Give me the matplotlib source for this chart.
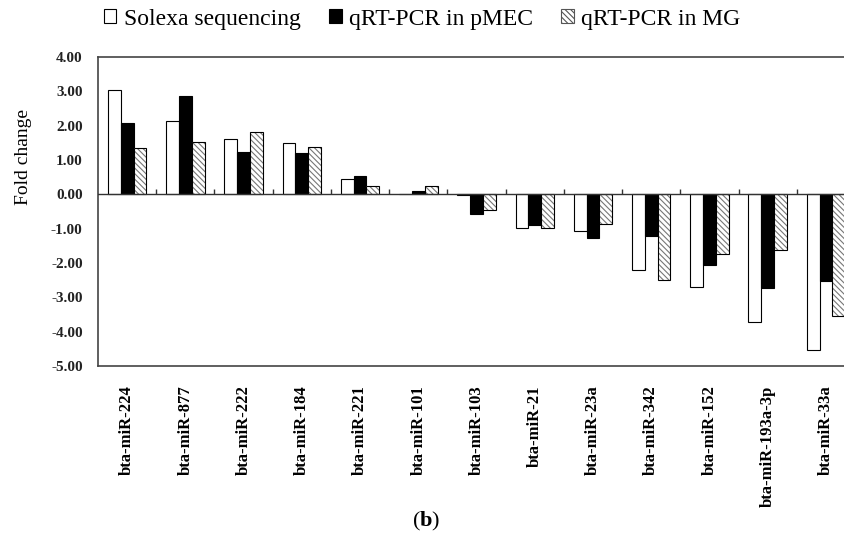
import numpy as np
import matplotlib
matplotlib.use('Agg')
import matplotlib.pyplot as plt

plt.rcParams['font.family'] = ['Liberation Serif', 'DejaVu Serif']
plt.rcParams['mathtext.fontset'] = 'custom'
plt.rcParams['mathtext.bf'] = 'Liberation Serif:bold'
plt.rcParams['mathtext.rm'] = 'Liberation Serif'
plt.rcParams['hatch.linewidth'] = 0.8

mirnas = ['bta-miR-224', 'bta-miR-877', 'bta-miR-222', 'bta-miR-184', 'bta-miR-221',
          'bta-miR-101', 'bta-miR-103', 'bta-miR-21', 'bta-miR-23a', 'bta-miR-342',
          'bta-miR-152', 'bta-miR-193a-3p', 'bta-miR-33a']
solexa = [3.04, 2.15, 1.61, 1.50, 0.44, 0.02, -0.03, -0.99, -1.06, -2.20, -2.71, -3.73, -4.52]
pmec = [2.07, 2.87, 1.23, 1.19, 0.54, 0.10, -0.56, -0.89, -1.28, -1.20, -2.07, -2.74, -2.52]
mg = [1.36, 1.53, 1.81, 1.39, 0.23, 0.23, -0.45, -0.99, -0.85, -2.49, -1.73, -1.61, -3.53]
yticks = [4, 3, 2, 1, 0, -1, -2, -3, -4, -5]

fig = plt.figure(figsize=(8.44, 5.43), dpi=100)
ax = fig.add_axes([0.1161, 0.326, 0.897, 0.569])

x = np.arange(len(mirnas)) + 0.5
w = 0.22

ax.bar(x - w, solexa, w, color='white', edgecolor='black', linewidth=0.8, zorder=3)
ax.bar(x, pmec, w, color='black', edgecolor='black', linewidth=0.8, zorder=3)
ax.bar(x + w, mg, w, color='white', edgecolor='#777777', hatch='\\\\\\\\\\\\', linewidth=0, zorder=3)
ax.bar(x + w, mg, w, color='none', edgecolor='black', linewidth=0.8, zorder=4)

# zero line with small category ticks
ax.axhline(0, color='#333333', linewidth=1.0, zorder=5)
ax.vlines(np.arange(1, len(mirnas)), 0, 0.15, color='#333333', linewidth=1.0, zorder=5)

ax.set_xlim(0, len(mirnas))
ax.set_ylim(-5, 4)
ax.set_yticks(yticks)
ax.set_yticklabels(['%.2f' % v for v in yticks], fontsize=11, fontweight='bold', color='#222222')
ax.tick_params(axis='y', length=0, pad=11)
ax.set_xticks(x)
ax.set_xticklabels(mirnas, rotation=90, fontsize=12, fontweight='bold', va='top')
ax.tick_params(axis='x', length=0, pad=14)

for s in ax.spines.values():
    s.set_color('#444444')
    s.set_linewidth(1.2)

ax.set_ylabel('Fold change', fontsize=14)
ax.yaxis.set_label_coords(-0.087, 0.676)

# legend proxies
hs = plt.Rectangle((0, 0), 1, 1, facecolor='white', edgecolor='black', linewidth=0.8)
hp = plt.Rectangle((0, 0), 1, 1, facecolor='black', edgecolor='black', linewidth=0.8)
hm = plt.Rectangle((0, 0), 1, 1, facecolor='white', edgecolor='#555555', hatch='\\\\\\\\\\\\', linewidth=0.8)
fig.legend([hs, hp, hm], ['Solexa sequencing', 'qRT-PCR in pMEC', 'qRT-PCR in MG'],
           loc='center', bbox_to_anchor=(0.5, 0.965), ncol=3, frameon=False,
           fontsize=17, handlelength=0.55, handleheight=0.55, handletextpad=0.3,
           columnspacing=1.2)

fig.text(0.505, 0.04, r'($\mathbf{b}$)', ha='center', va='center', fontsize=16)

fig.savefig('out.png', dpi=100)
